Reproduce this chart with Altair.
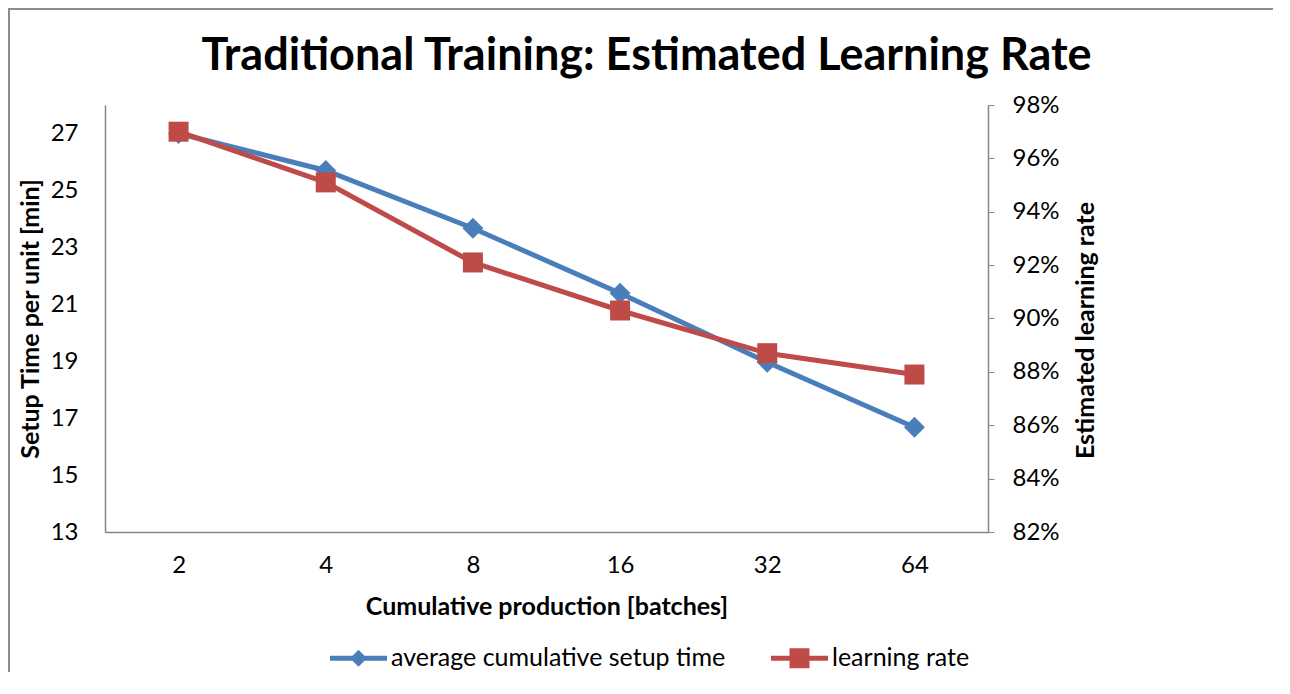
import altair as alt
import pandas as pd

batches = ["2", "4", "8", "16", "32", "64"]
setup_time = [27.0, 25.7, 23.67, 21.39, 18.96, 16.68]
learning_rate = [0.970, 0.951, 0.921, 0.903, 0.887, 0.879]
series_names = ["average cumulative setup time", "learning rate"]
left_ticks = [13, 15, 17, 19, 21, 23, 25, 27]
right_ticks = [0.82, 0.84, 0.86, 0.88, 0.90, 0.92, 0.94, 0.96, 0.98]

BLUE = "#4A7EBB"
RED = "#BE4B48"
GRAY = "#868686"
FONT = "Lato"

df = pd.DataFrame({"batch": batches, "setup": setup_time, "rate": learning_rate})
legend_df = pd.DataFrame({"series": series_names})

x_enc = alt.X(
    "batch:O",
    sort=batches,
    scale=alt.Scale(type="point", padding=0.5),
    axis=alt.Axis(
        title="Cumulative production [batches]",
        labelAngle=0,
        ticks=False,
        labelPadding=33,
        labelBaseline="middle",
        titleY=74,
        titleBaseline="middle",
    ),
)

left_axis = alt.Axis(
    title="Setup Time per unit [min]",
    values=left_ticks,
    ticks=False,
    labelPadding=27,
    titleAngle=270,
    titleX=-75,
    titleY=213.5,
    titleAlign="center",
    titleBaseline="middle",
)
right_axis = alt.Axis(
    title="Estimated learning rate",
    orient="right",
    values=right_ticks,
    format=".0%",
    ticks=True,
    tickSize=6,
    tickColor=GRAY,
    labelPadding=18,
    titleAngle=270,
    titleX=97,
    titleY=225,
    titleAlign="center",
    titleBaseline="middle",
)

base = alt.Chart(df)

y_left = alt.Y("setup:Q", scale=alt.Scale(domain=[13, 28], nice=False, zero=False), axis=left_axis)
blue_line = base.mark_line(color=BLUE, strokeWidth=5).encode(x=x_enc, y=y_left)
blue_pts = base.mark_point(shape="diamond", filled=True, color=BLUE, size=441, opacity=1).encode(x=x_enc, y=y_left)
left = alt.layer(blue_line, blue_pts)

y_right = alt.Y("rate:Q", scale=alt.Scale(domain=[0.82, 0.98], nice=False, zero=False), axis=right_axis)
red_line = base.mark_line(color=RED, strokeWidth=5).encode(x=x_enc, y=y_right)
red_pts = base.mark_point(shape="square", filled=True, color=RED, size=400, opacity=1).encode(x=x_enc, y=y_right)
right = alt.layer(red_line, red_pts)

diamond_path = "M-1,-0.09 L-0.21,-0.09 L0,-0.3 L0.21,-0.09 L1,-0.09 L1,0.09 L0.21,0.09 L0,0.3 L-0.21,0.09 L-1,0.09 Z"
square_path = "M-1,-0.09 L-0.35,-0.09 L-0.35,-0.35 L0.35,-0.35 L0.35,-0.09 L1,-0.09 L1,0.09 L0.35,0.09 L0.35,0.35 L-0.35,0.35 L-0.35,0.09 L-1,0.09 Z"

leg = alt.Legend(
    title=None,
    orient="none",
    direction="horizontal",
    legendX=225,
    legendY=524.5,
    symbolSize=3249,
    symbolStrokeWidth=0,
    symbolOpacity=1,
    labelFontSize=25,
    labelFont=FONT,
    labelColor="#000000",
    labelOffset=4,
    labelLimit=0,
    columnPadding=45,
)

legend_layer = (
    alt.Chart(legend_df)
    .transform_filter("false")
    .mark_point(filled=True, opacity=1)
    .encode(
        color=alt.Color("series:N", scale=alt.Scale(domain=series_names, range=[BLUE, RED]), legend=leg),
        shape=alt.Shape("series:N", scale=alt.Scale(domain=series_names, range=[diamond_path, square_path]), legend=leg),
    )
)

frame_left = alt.Chart(legend_df).mark_rule(color="#8c8c8c", strokeWidth=2).encode(
    x=alt.value(-96), y=alt.value(-97), y2=alt.value(580)
)
frame_top = alt.Chart(legend_df).mark_rule(color="#8c8c8c", strokeWidth=2).encode(
    x=alt.value(-96), x2=alt.value(1180), y=alt.value(-96)
)

chart = (
    alt.layer(left, right, legend_layer, frame_left, frame_top)
    .resolve_scale(y="independent")
    .properties(
        width=883,
        height=427,
        autosize="none",
        padding={"left": 97, "top": 97, "right": 285, "bottom": 140},
        title=alt.TitleParams(
            "Traditional Training: Estimated Learning Rate",
            font=FONT,
            fontSize=45,
            fontWeight="bold",
            color="#000000",
            anchor="middle",
            baseline="alphabetic",
            dx=100,
            dy=108,
            offset=0,
        ),
    )
    .configure_view(stroke=None)
    .configure_axis(
        grid=False,
        domainColor=GRAY,
        domainWidth=1.5,
        labelFont=FONT,
        labelFontSize=24,
        labelColor="#000000",
        titleFont=FONT,
        titleFontSize=25,
        titleFontWeight="bold",
        titleColor="#000000",
    )
)

chart.save("out.html", embed_options={"renderer": "svg", "actions": False})
